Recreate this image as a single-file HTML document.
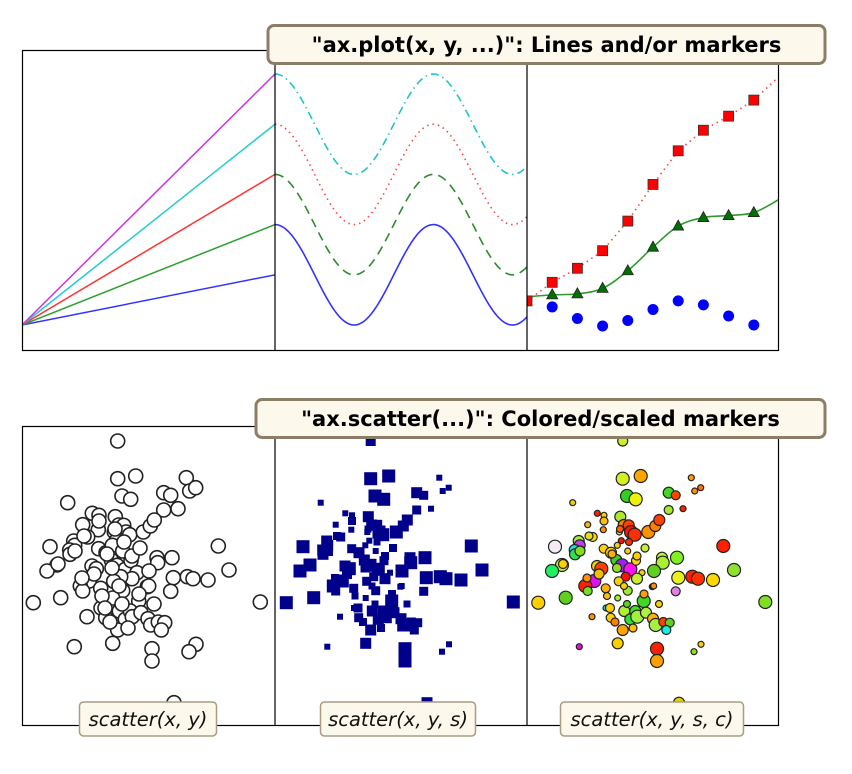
<!DOCTYPE html>
<html><head><meta charset="utf-8">
<style>
html,body{margin:0;padding:0;background:#fff;}
svg{display:block;}
.tt{font-family:"DejaVu Sans","Liberation Sans",sans-serif;font-weight:bold;font-size:21px;fill:#000;}
.lb{font-family:"DejaVu Sans","Liberation Sans",sans-serif;font-style:italic;font-size:19.5px;fill:#111;}
</style></head>
<body>
<svg id="fig" width="852" height="774" viewBox="0 0 852 774" xmlns="http://www.w3.org/2000/svg">
<defs>
<clipPath id="cp1"><rect x="22" y="50" width="253" height="301"/></clipPath>
<clipPath id="cp2"><rect x="275" y="50" width="252" height="301"/></clipPath>
<clipPath id="cp3"><rect x="527" y="50" width="252" height="301"/></clipPath>
<clipPath id="cb1"><rect x="22" y="426" width="253" height="300"/></clipPath>
<clipPath id="cb2"><rect x="275" y="426" width="252" height="300"/></clipPath>
<clipPath id="cb3"><rect x="527" y="426" width="252" height="300"/></clipPath>
</defs>
<g id="marks"></g>
<g id="frames" fill="none" stroke="#000" stroke-width="1.2">
<rect x="22.5" y="50.5" width="756" height="300"/>
<line x1="275" y1="50" x2="275" y2="351"/>
<line x1="527" y1="50" x2="527" y2="351"/>
<rect x="22.5" y="426.5" width="756" height="299"/>
<line x1="275" y1="426" x2="275" y2="726"/>
<line x1="527" y1="426" x2="527" y2="726"/>
</g>
<g>
<rect x="268" y="25.5" width="557" height="38" rx="6" fill="#fdf8ec" stroke="#8c7e66" stroke-width="3"/>
<text class="tt" x="546.5" y="52" text-anchor="middle">"ax.plot(x, y, ...)": Lines and/or markers</text>
</g>
<g>
<rect x="256" y="399.5" width="569" height="38" rx="6" fill="#fdf8ec" stroke="#8c7e66" stroke-width="3"/>
<text class="tt" x="540.5" y="426" text-anchor="middle">"ax.scatter(...)": Colored/scaled markers</text>
</g>
<g>
<rect x="79.5" y="702" width="137" height="34" rx="4" fill="#fdf8ec" stroke="#a89c84" stroke-width="1.5"/>
<text class="lb" x="148" y="726" text-anchor="middle">scatter(x, y)</text>
</g>
<g>
<rect x="320.5" y="702" width="155" height="34" rx="4" fill="#fdf8ec" stroke="#a89c84" stroke-width="1.5"/>
<text class="lb" x="398" y="726" text-anchor="middle">scatter(x, y, s)</text>
</g>
<g>
<rect x="560.5" y="702" width="183" height="34" rx="4" fill="#fdf8ec" stroke="#a89c84" stroke-width="1.5"/>
<text class="lb" x="652" y="726" text-anchor="middle">scatter(x, y, s, c)</text>
</g>
</svg>
<script>
// ---- top-left: straight lines y = slope * x ----
const lineSlopes = [1, 2, 3, 4, 5];
const lineColors = ['#3333ff', '#2ca02c', '#ff3333', '#22cccc', '#cc33dd'];
// ---- top-middle: cos waves offset ----
const waveOffsets = [1, 2, 3, 4];
const waveAmp = 1;
// ---- top-right: markers ----
const mkX = [0,1,2,3,4,5,6,7,8,9,10];
const redSq = [0.48,0.85,1.13,1.48,2.07,2.80,3.47,3.88,4.16,4.48,4.95];
const greenTri = [0.56,0.60,0.62,0.73,1.08,1.55,1.97,2.14,2.18,2.24,2.50];
const blueDot = [null,0.36,0.13,-0.02,0.09,0.31,0.48,0.40,0.18,0.0];
// ---- scatter data (x 0..254, y 0..300 units, y down) ----
const scX = [95.7,95.7,113.7,100,108.7,45.7,141.7,148.7,164.3,167.7,173.7,156,141.7,70.3,77,93.3,60.7,76.3,96.7,101.7,104,107.7,92.3,121.3,128.3,132.3,65.7,94.3,51.7,52.7,28,47.7,48,76.7,84,90.3,100.7,196.3,35,25,70,74.3,89.3,95,103.3,109,115,110,98.7,91.7,135,135.7,127,150,151.3,165.3,171,186,207,67.3,58.3,60.7,78.7,100.7,125.3,126.7,148.7,11.3,38.7,90.7,116.7,79,97.3,103.3,108.3,110.3,119,126,128.7,136.3,142.7,139.3,65,83.7,95.7,90.7,52.3,130,130,174,167,238.3,152,
  77,93,62,53,36,85,102,110,72,90,97,60,80,118,83,100,117,132,88,106];
const scY = [15,52.7,50,70,73.3,76.7,66.7,69.3,51.7,65,61.7,82.7,84,87.3,89.3,90.7,98.7,103.7,99,99.3,106,108.7,106,106,100,94,111,114.7,115,119.3,120.7,124,128.3,122.7,126.7,119.3,125,120,139,145,140,142.7,134,139.3,143.3,134.7,146.7,152.7,150.7,155.3,131.7,136.7,145,131.7,151.7,150.7,152.7,154,144,155,160,165,162.3,164.7,160.7,160,165.3,176.7,171.7,172,175,182,185,193.3,185,190.7,186.7,192.7,199,196,196.7,204,190.7,191.7,204,217.3,220.7,222.7,235,218.3,225.7,176,276.7,
  95,103,110,125,138,128,116,130,148,142,160,152,170,122,182,178,168,178,196,202];
const scR = [5,6.5,6.5,6.5,6.5,3,5.5,4.5,3,3,3,3,4.5,3,3,5.5,3,3,5.5,5.5,6.5,6.5,3,6.5,5.5,5.5,4.5,3,5.5,5.5,6.5,5.5,5.5,4.5,5.5,3,3,6.5,6.5,6.5,5.5,6.5,5.5,6.5,6.5,4.5,3,5.5,4.5,4.5,5.5,6.5,6.5,6.5,6.5,6.5,6.5,6.5,6.5,6.5,6.5,4.5,4.5,4.5,3,3,4.5,6.5,6.5,3,6.5,3,5.5,5.5,5.5,6.5,5.5,5.5,6.5,4.5,4.5,4.5,3,4.5,5.5,5.5,3,6.5,6.5,3,3,6.5,5.5,
  4,3.5,4,5,4.5,4,3.5,4,5,4.5,3.5,4,3.5,4,4.5,3.5,4,3.5,4,4];
const scC = ['#cdf020','#d4f020','#ffa500','#30d020','#eef010','#f0d000','#40d820','#ff4500','#ffa000','#ff9000','#ff7000','#ff2000','#a8e830','#ff2000','#ffd000','#b0e830','#f0c000','#ff9000','#ff8000','#ff4000','#ff1000','#ff3000','#e8e010','#ff9000','#ff8000','#ff4000','#ffd800','#ff1000','#a8e830','#c040f0','#f4eaf4','#10e0f0','#30e050','#ffd000','#ffd000','#ffd000','#ffd000','#ff2000','#c0f030','#20f060','#ffd000','#ff4000','#40d020','#a020f0','#ff10f0','#ffd000','#ffd000','#c8f030','#ff1000','#ffd000','#c0f030','#a8f030','#60d020','#80f020','#e8f020','#ff2000','#ff3000','#ffd800','#90e030','#e010f0','#ff2000','#70e020','#ffb000','#a0e830','#000080','#ff9000','#e080e0','#ffd000','#60d020','#a0f030','#40d820','#10d0f0','#b0f030','#30e030','#40e020','#a0f040','#b0f040','#ffb000','#a8f040','#ff4000','#60d020','#10f0e0','#ff9000','#ffd000','#ffa500','#ffd000','#e010e0','#ff2000','#ffa000','#ffd000','#90e020','#80e020','#e8d000',
  '#ffc000','#ff6000','#e0e020','#80e020','#ffd000','#ffb000','#ff3000','#ffd000','#f0c000','#90e020','#ffd000','#ff9000','#ffc000','#c0f030','#ffd000','#60d020','#ffa000','#ffd000','#ff8000','#ffc000'];

const NS = 'http://www.w3.org/2000/svg';
const marks = document.getElementById('marks');
function mk(tag, attrs, parent) {
  const e = document.createElementNS(NS, tag);
  for (const k in attrs) e.setAttribute(k, attrs[k]);
  (parent || marks).appendChild(e);
  return e;
}
const yTop = v => 325 - v * 50.2;
const xP1 = v => 22 + v * 253;
const xP2 = v => 275 + v * 25.2;
const xP3 = v => 527 + v * 25.2;
const sxFn = left => v => left + v;
const sy = v => 426 + v;

const g1 = mk('g', {'clip-path': 'url(#cp1)'});


lineSlopes.forEach((k, i) => {
  const l = mk('line', {x1: xP1(0), y1: yTop(0), x2: xP1(1), y2: yTop(k), stroke: lineColors[i], 'stroke-width': 1.5}, g1);
  
  
});
const g2 = mk('g', {'clip-path': 'url(#cp2)'});


const waveStyles = [
  {stroke: '#3333ff', dash: ''},
  {stroke: '#2e8b2e', dash: '9,6'},
  {stroke: '#ff4444', dash: '1.5,4'},
  {stroke: '#22c4c8', dash: '8,4,1.5,4'}
];
waveOffsets.forEach((o, i) => {
  let d = '';
  for (let t = 0; t <= 200; t++) {
    const x = t / 20;
    d += (t ? 'L' : 'M') + xP2(x).toFixed(2) + ',' + yTop(o + waveAmp * Math.cos(x)).toFixed(2);
  }
  const p = mk('path', {d, fill: 'none', stroke: waveStyles[i].stroke, 'stroke-width': 1.6, 'stroke-dasharray': waveStyles[i].dash}, g2);
  
  
});
const g3 = mk('g', {'clip-path': 'url(#cp3)'});


let dr = '';
mkX.forEach((x, i) => { dr += (i ? 'L' : 'M') + xP3(x) + ',' + yTop(redSq[i]); });
const rl = mk('path', {d: dr, fill: 'none', stroke: '#ff4444', 'stroke-width': 1.6, 'stroke-dasharray': '1.5,4'}, g3);


const gp = mkX.map((x, i) => [xP3(x), yTop(greenTri[i])]);
let dg = 'M' + gp[0][0] + ',' + gp[0][1];
for (let i = 0; i < gp.length - 1; i++) {
  const p0 = gp[Math.max(0, i - 1)], p1 = gp[i], p2 = gp[i + 1], p3 = gp[Math.min(gp.length - 1, i + 2)];
  const c1 = [p1[0] + (p2[0] - p0[0]) / 6, p1[1] + (p2[1] - p0[1]) / 6];
  const c2 = [p2[0] - (p3[0] - p1[0]) / 6, p2[1] - (p3[1] - p1[1]) / 6];
  dg += 'C' + c1.join(',') + ' ' + c2.join(',') + ' ' + p2.join(',');
}
const gl = mk('path', {d: dg, fill: 'none', stroke: '#2e9a2e', 'stroke-width': 1.6}, g3);


mkX.forEach((x, i) => {
  if (i >= 1 && i <= 9) {
    const cx = xP3(x), cy = yTop(greenTri[i]);
    const t = mk('polygon', {points: `${cx},${cy - 6} ${cx - 5.5},${cy + 4} ${cx + 5.5},${cy + 4}`, fill: '#007000', stroke: '#222', 'stroke-width': 0.8}, g3);
    
    
  }
  if (i <= 9) {
    const s = mk('rect', {x: xP3(x) - 5, y: yTop(redSq[i]) - 5, width: 10, height: 10, fill: '#ff0000', stroke: '#333', 'stroke-width': 0.8}, g3);
    
    
  }
  if (blueDot[i] != null && i <= 9) {
    const c = mk('circle', {cx: xP3(x), cy: yTop(blueDot[i]), r: 5.5, fill: '#0000ff'}, g3);
    
    
  }
});
const b1 = mk('g', {'clip-path': 'url(#cb1)'});


const b2 = mk('g', {'clip-path': 'url(#cb2)'});


const b3 = mk('g', {'clip-path': 'url(#cb3)'});


const sx1 = sxFn(22), sx2 = sxFn(275), sx3 = sxFn(527);
scX.forEach((x, i) => {
  const y = sy(scY[i]);
  const a = mk('circle', {cx: sx1(x), cy: y, r: 7, fill: '#fff', stroke: '#222', 'stroke-width': 1.6}, b1);
  
  
  const r = scR[i];
  const b = mk('rect', {x: sx2(x) - r, y: y - r, width: 2 * r, height: 2 * r, fill: '#00008b'}, b2);
  
  
  const c = mk('circle', {cx: sx3(x), cy: y, r: r, fill: scC[i], stroke: '#222', 'stroke-width': 1.2}, b3);
  
  
});
</script>
</body></html>
